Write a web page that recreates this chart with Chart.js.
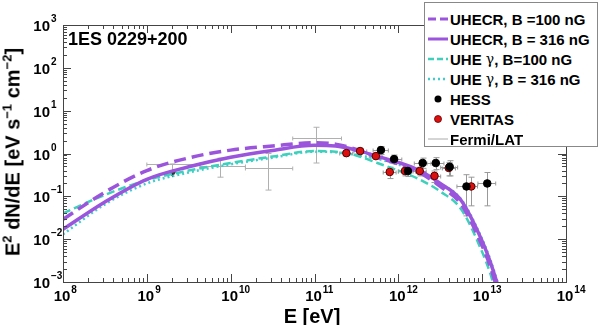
<!DOCTYPE html>
<html>
<head>
<meta charset="utf-8">
<script src="https://cdn.jsdelivr.net/npm/chart.js@4/dist/chart.umd.min.js"></script>
<style>
  body { margin: 0; background: #fff; font-family: "Liberation Sans", Arial, sans-serif; }
  #wrap { position: relative; width: 600px; height: 325px; overflow: hidden; }
  #chart { position: absolute; left: 0; top: 0; }
  .txt { position: absolute; font-weight: bold; color: #000; white-space: nowrap; }
  #title { left: 68px; top: 30px; font-size: 18px; line-height: 18px; }
  #xtitle { left: 312px; top: 316px; font-size: 20px; line-height: 20px; transform: translate(-50%, -50%); }
  #ytitle { left: 14px; top: 152px; font-size: 20px; line-height: 20px; transform: translate(-50%, -50%) rotate(-90deg); }
  #ytitle sup { font-size: 13px; position: relative; top: -8px; vertical-align: baseline; }
  #legend { position: absolute; left: 424px; top: 2px; width: 174px; height: 145px; background: #fff;
            border: 1px solid #888; padding-top: 6px; box-sizing: border-box; }
  .row { display: flex; align-items: center; height: 20px; font-weight: bold; font-size: 15px; }
  .row svg { margin-left: 3px; margin-right: 2px; flex: none; }
  .gam { font-family: "DejaVu Serif", serif; font-weight: normal; font-size: 14px; }
</style>
</head>
<body>
<div id="wrap">
  <canvas id="chart" width="600" height="325"></canvas>
  <div class="txt" id="title">1ES 0229+200</div>
  <div class="txt" id="xtitle">E [eV]</div>
  <div class="txt" id="ytitle">E<sup>2</sup> dN/dE [eV s<sup>−1</sup> cm<sup>−2</sup>]</div>
  <div id="legend">
    <div class="row"><svg width="20" height="8"><line x1="0" y1="4" x2="20" y2="4" stroke="#9b55dc" stroke-width="3" stroke-dasharray="8,4"/></svg>UHECR, B =100 nG</div>
    <div class="row"><svg width="20" height="8"><line x1="0" y1="4" x2="20" y2="4" stroke="#9b55dc" stroke-width="3"/></svg>UHECR, B = 316 nG</div>
    <div class="row"><svg width="20" height="8"><line x1="0" y1="4" x2="20" y2="4" stroke="#3fd0bc" stroke-width="2.5" stroke-dasharray="6,3"/></svg>UHE&nbsp;<span class="gam">γ</span>, B=100 nG</div>
    <div class="row"><svg width="20" height="8"><line x1="0" y1="4" x2="20" y2="4" stroke="#40cccc" stroke-width="2.5" stroke-dasharray="2,3"/></svg>UHE&nbsp;<span class="gam">γ</span>, B = 316 nG</div>
    <div class="row"><svg width="20" height="10"><circle cx="10" cy="5" r="3.5" fill="#000"/></svg>HESS</div>
    <div class="row"><svg width="20" height="10"><circle cx="10" cy="5" r="3.5" fill="#dd1010" stroke="#600" stroke-width="0.8"/></svg>VERITAS</div>
    <div class="row"><svg width="20" height="8"><line x1="0" y1="4" x2="20" y2="4" stroke="#aaa" stroke-width="1"/></svg>Fermi/LAT</div>
  </div>
</div>
<script>
// axis decades (tick labels are 10^n)
const xDecades = [8, 9, 10, 11, 12, 13, 14];
const yDecades = [-3, -2, -1, 0, 1, 2, 3];

// model curves, E in eV, E^2 dN/dE in eV s^-1 cm^-2
const energyGrid = [1e8, 3.16e8, 1e9, 3.16e9, 1e10, 3.16e10, 1e11, 1.78e11, 3.16e11, 5.62e11,
                    1e12, 1.78e12, 3.16e12, 5.62e12, 1e13, 1.26e13, 1.58e13];
const uhecr100 = [0.029, 0.125, 0.40, 0.79, 1.2, 1.5, 1.78, 1.65, 1.25, 0.82, 0.57, 0.36, 0.17, 0.065, 0.007, 0.0022, 0.0005];
const uhecr316 = [0.017, 0.074, 0.25, 0.49, 0.82, 1.18, 1.55, 1.5, 1.2, 0.86, 0.62, 0.4, 0.2, 0.08, 0.009, 0.0028, 0.0007];
const uheGamma100 = [0.040, 0.108, 0.24, 0.40, 0.6, 0.85, 1.14, 1.1, 0.9, 0.6, 0.4, 0.25, 0.13, 0.05, 0.005, 0.0015, 0.0003];
const uheGamma316 = [0.013, 0.065, 0.20, 0.36, 0.56, 0.8, 1.1, 1.07, 0.92, 0.75, 0.55, 0.38, 0.2, 0.085, 0.01, 0.0032, 0.0008];

// HESS
const hessE = [6.2e11, 8.9e11, 1.3e12, 1.95e12, 2.8e12, 4.1e12, 6.5e12, 1.15e13];
const hessELow = [5.0e11, 7.1e11, 1.0e12, 1.55e12, 2.2e12, 3.2e12, 5.0e12, 8.9e12];
const hessEHigh = [7.6e11, 1.1e12, 1.6e12, 2.45e12, 3.5e12, 5.1e12, 8.2e12, 1.45e13];
const hessFlux = [1.2, 0.74, 0.39, 0.6, 0.6, 0.49, 0.17, 0.20];
const hessFluxLow = [0.95, 0.58, 0.29, 0.45, 0.42, 0.3, 0.035, 0.06];
const hessFluxHigh = [1.45, 0.92, 0.5, 0.78, 0.8, 0.68, 0.32, 0.36];

// VERITAS
const veritasE = [2.4e11, 3.5e11, 5.4e11, 7.9e11, 1.2e12, 1.8e12, 2.7e12, 4.0e12, 7.4e12];
const veritasELow = [2.0e11, 2.95e11, 4.5e11, 6.6e11, 1.0e12, 1.5e12, 2.25e12, 3.35e12, 6.2e12];
const veritasEHigh = [2.85e11, 4.2e11, 6.4e11, 9.4e11, 1.45e12, 2.15e12, 3.2e12, 4.8e12, 8.8e12];
const veritasFlux = [1.02, 1.14, 0.87, 0.37, 0.39, 0.39, 0.30, 0.46, 0.17];
const veritasFluxLow = [0.88, 1.0, 0.74, 0.26, 0.3, 0.3, 0.21, 0.3, 0.06];
const veritasFluxHigh = [1.16, 1.28, 1.0, 0.48, 0.48, 0.48, 0.39, 0.62, 0.28];

// Fermi/LAT (first bin is an upper limit)
const fermiE = [2.0e9, 7.4e9, 2.8e10, 1.05e11];
const fermiELow = [1.0e9, 4.3e9, 1.5e10, 5.5e10];
const fermiEHigh = [4.3e9, 1.5e10, 5.5e10, 2.1e11];
const fermiFlux = [0.57, 0.5, 0.47, 2.3];
const fermiFluxLow = [0.28, 0.28, 0.14, 0.6];
const fermiFluxHigh = [0.57, 0.78, 1.0, 4.1];
const fermiUpperLimit = [true, false, false, false];

const PURPLE = '#9b55dc';
const TEAL = '#3fd0bc';
const CYAN = '#40cccc';

function pts(xs, ys) { return xs.map((x, i) => ({ x, y: ys[i] })); }

// error bars through the chart scales
function drawBars(chart, E, ELo, EHi, F, FLo, FHi, color, limits) {
  const { ctx, scales: { x, y } } = chart;
  ctx.save();
  ctx.strokeStyle = color;
  ctx.fillStyle = '#333';
  ctx.lineWidth = 1;
  for (let i = 0; i < E.length; i++) {
    const px = Math.round(x.getPixelForValue(E[i])) + 0.5;
    const py = Math.round(y.getPixelForValue(F[i])) + 0.5;
    const x0 = x.getPixelForValue(ELo[i]), x1 = x.getPixelForValue(EHi[i]);
    const yLo = y.getPixelForValue(FLo[i]), yHi = y.getPixelForValue(FHi[i]);
    ctx.beginPath();
    ctx.moveTo(x0, py); ctx.lineTo(x1, py);
    ctx.moveTo(px, yLo); ctx.lineTo(px, yHi);
    ctx.moveTo(px - 3, yHi); ctx.lineTo(px + 3, yHi);
    if (!(limits && limits[i])) { ctx.moveTo(px - 3, yLo); ctx.lineTo(px + 3, yLo); }
    ctx.moveTo(x0, py - 2); ctx.lineTo(x0, py + 2);
    ctx.moveTo(x1, py - 2); ctx.lineTo(x1, py + 2);
    ctx.stroke();
    if (limits && limits[i]) {
      ctx.beginPath();
      ctx.moveTo(px - 4, yLo - 6); ctx.lineTo(px + 4, yLo - 6); ctx.lineTo(px, yLo);
      ctx.closePath(); ctx.fill();
    }
  }
  ctx.restore();
}

const errorBars = {
  id: 'errorBars',
  beforeDatasetsDraw(chart) {
    const a = chart.chartArea;
    chart.ctx.save();
    chart.ctx.beginPath();
    chart.ctx.rect(a.left, a.top, a.right - a.left, a.bottom - a.top);
    chart.ctx.clip();
    drawBars(chart, fermiE, fermiELow, fermiEHigh, fermiFlux, fermiFluxLow, fermiFluxHigh, '#b0b0b0', fermiUpperLimit);
    drawBars(chart, veritasE, veritasELow, veritasEHigh, veritasFlux, veritasFluxLow, veritasFluxHigh, '#999');
    drawBars(chart, hessE, hessELow, hessEHigh, hessFlux, hessFluxLow, hessFluxHigh, '#999');
    chart.ctx.restore();
  }
};

// ROOT-style frame: ticks inside on all four sides, 10^n labels
const frameTicks = {
  id: 'frameTicks',
  afterDatasetsDraw(chart) {
    const { ctx, chartArea: a, scales: { x, y } } = chart;
    ctx.save();
    ctx.strokeStyle = '#444';
    ctx.lineWidth = 1;
    ctx.strokeRect(Math.round(a.left) + 0.5, Math.round(a.top) + 0.5,
                   Math.round(a.right - a.left), Math.round(a.bottom - a.top));
    ctx.beginPath();
    xDecades.forEach(d => {
      for (let k = 1; k <= 9; k++) {
        const v = k * Math.pow(10, d);
        if (v > x.max * 1.0001) break;
        const px = Math.round(x.getPixelForValue(v)) + 0.5;
        const len = k === 1 ? 8 : 4;
        ctx.moveTo(px, a.bottom); ctx.lineTo(px, a.bottom - len);
        ctx.moveTo(px, a.top); ctx.lineTo(px, a.top + len);
      }
    });
    yDecades.forEach(d => {
      for (let k = 1; k <= 9; k++) {
        const v = k * Math.pow(10, d);
        if (v > y.max * 1.0001) break;
        const py = Math.round(y.getPixelForValue(v)) + 0.5;
        const len = k === 1 ? 8 : 4;
        ctx.moveTo(a.left, py); ctx.lineTo(a.left + len, py);
        ctx.moveTo(a.right, py); ctx.lineTo(a.right - len, py);
      }
    });
    ctx.stroke();

    const base = 'bold 15px "Liberation Sans", Arial, sans-serif';
    const sup = 'bold 10px "Liberation Sans", Arial, sans-serif';
    ctx.fillStyle = '#000';
    ctx.textBaseline = 'alphabetic';
    xDecades.forEach(d => {
      const px = x.getPixelForValue(Math.pow(10, d));
      ctx.font = base; ctx.textAlign = 'center';
      ctx.fillText('10', px - 1, a.bottom + 19);
      const w = ctx.measureText('10').width;
      ctx.font = sup; ctx.textAlign = 'left';
      ctx.fillText(String(d).replace('-', '−'), px - 1 + w / 2 + 1, a.bottom + 11);
    });
    yDecades.forEach(d => {
      const py = y.getPixelForValue(Math.pow(10, d));
      ctx.font = base; ctx.textAlign = 'right';
      ctx.fillText('10', 50, py + 6);
      ctx.font = sup; ctx.textAlign = 'left';
      ctx.fillText(String(d).replace('-', '−'), 51, py - 3);
    });
    ctx.restore();
  }
};

const lineDs = (label, data, color, width, dash) => ({
  type: 'line', label, data: pts(energyGrid, data),
  borderColor: color, borderWidth: width, borderDash: dash,
  pointRadius: 0, fill: false, cubicInterpolationMode: 'monotone'
});

new Chart(document.getElementById('chart'), {
  data: {
    datasets: [
      { type: 'scatter', label: 'HESS', data: pts(hessE, hessFlux),
        backgroundColor: '#000', borderColor: '#000', borderWidth: 1, pointRadius: 3.8 },
      { type: 'scatter', label: 'VERITAS', data: pts(veritasE, veritasFlux),
        backgroundColor: '#dd1010', borderColor: '#500', borderWidth: 1, pointRadius: 3.8 },
      lineDs('UHECR, B =100 nG', uhecr100, PURPLE, 3.5, [12, 6]),
      lineDs('UHECR, B = 316 nG', uhecr316, PURPLE, 3.5, []),
      lineDs('UHE γ, B=100 nG', uheGamma100, TEAL, 2.5, [8, 4]),
      lineDs('UHE γ, B = 316 nG', uheGamma316, CYAN, 2.5, [2, 3])
    ]
  },
  options: {
    responsive: false,
    animation: false,
    devicePixelRatio: 1,
    layout: { padding: { left: 63, right: 34, top: 25, bottom: 43 } },
    scales: {
      x: { type: 'logarithmic', min: 1e8, max: 1e14, display: false },
      y: { type: 'logarithmic', min: 1e-3, max: 1e3, display: false }
    },
    plugins: { legend: { display: false }, tooltip: { enabled: false } }
  },
  plugins: [errorBars, frameTicks]
});
</script>
</body>
</html>
